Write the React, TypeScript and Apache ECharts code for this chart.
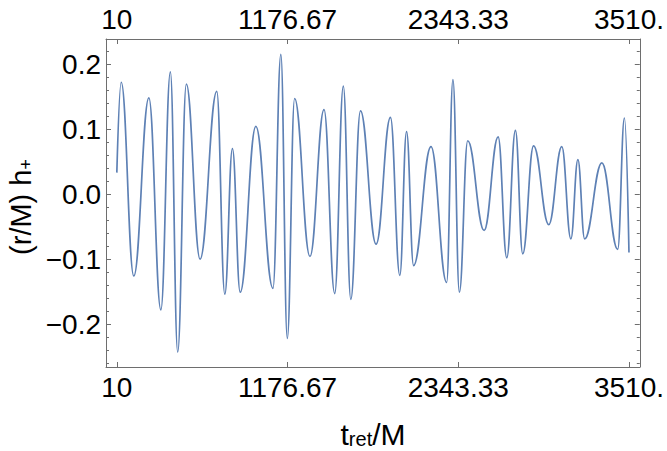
import React, { useEffect, useRef } from "react";
import * as echarts from "echarts";

// Retarded time (t_ret/M) of each turning point
const T = [
  10, 40, 126, 229, 311, 376, 426, 485, 579, 693, 748, 800, 853, 960, 1077,
  1131, 1175, 1225, 1330, 1426, 1499, 1558, 1609, 1675, 1782, 1880, 1944, 1990,
  2038, 2157, 2264, 2307, 2351, 2408, 2520, 2616, 2675, 2734, 2784, 2858, 2962,
  3051, 3113, 3161, 3207, 3325, 3433, 3479, 3510,
];
// (r/M) h+ at those times
const H = [
  0.033, 0.172, -0.126, 0.148, -0.178, 0.188, -0.243, 0.169, -0.1, 0.158,
  -0.154, 0.07, -0.151, 0.104, -0.145, 0.215, -0.222, 0.147, -0.096, 0.13,
  -0.153, 0.166, -0.162, 0.128, -0.077, 0.118, -0.125, 0.096, -0.11, 0.073,
  -0.136, 0.176, -0.151, 0.082, -0.056, 0.088, -0.098, 0.098, -0.092, 0.074,
  -0.047, 0.073, -0.069, 0.053, -0.069, 0.048, -0.085, 0.117, -0.09,
];

const X_TICKS = [10, 1176.6667, 2343.3333, 3510];
const X_TICK_LABELS = ["10", "1176.67", "2343.33", "3510."];
const Y_MAJOR = [-0.2, -0.1, 0, 0.1, 0.2];
const Y_MINOR = [
  -0.26, -0.24, -0.22, -0.18, -0.16, -0.14, -0.12, -0.08, -0.06, -0.04, -0.02,
  0.02, 0.04, 0.06, 0.08, 0.12, 0.14, 0.16, 0.18, 0.22,
];

const X_MIN = -64;
const X_MAX = 3584;
const Y_MIN = -0.266;
const Y_MAX = 0.2385;

const FRAME = "#6e6e6e";
const FONT = "'Liberation Sans', Arial, sans-serif";

function xLabel(v: number): string {
  let best = 0;
  for (let i = 0; i < X_TICKS.length; i++) {
    if (Math.abs(X_TICKS[i] - v) < Math.abs(X_TICKS[best] - v)) best = i;
  }
  return X_TICK_LABELS[best];
}

function yLabel(v: number): string {
  const s = Math.abs(v).toFixed(1);
  return v < -1e-9 ? "\u2212" + s : s;
}

export default function App() {
  const ref = useRef<HTMLDivElement>(null);

  useEffect(() => {
    if (!ref.current) return;
    const chart = echarts.init(ref.current, undefined, { renderer: "svg" });
    const data = T.map((t, i) => [t, H[i]]);

    const xAxisBase = (position: "bottom" | "top") => ({
      type: "value",
      position,
      min: X_MIN,
      max: X_MAX,
      splitLine: { show: false },
      axisLine: { show: true, onZero: false, lineStyle: { color: FRAME, width: 1 } },
      axisTick: {
        show: true,
        inside: true,
        length: 5,
        customValues: X_TICKS,
        lineStyle: { color: FRAME, width: 1 },
      },
      axisLabel: {
        show: true,
        customValues: X_TICKS,
        formatter: xLabel,
        color: "#000",
        fontSize: 28,
        fontFamily: FONT,
        margin: 6,
        hideOverlap: false,
      },
    });

    const yAxisBase = (
      position: "left" | "right",
      ticks: number[],
      len: number,
      labels: boolean,
      line: boolean
    ) => ({
      type: "value",
      position,
      min: Y_MIN,
      max: Y_MAX,
      splitLine: { show: false },
      axisLine: { show: line, onZero: false, lineStyle: { color: FRAME, width: 1 } },
      axisTick: {
        show: true,
        inside: true,
        length: len,
        customValues: ticks,
        lineStyle: { color: FRAME, width: 1 },
      },
      axisLabel: labels
        ? {
            show: true,
            customValues: Y_MAJOR,
            formatter: yLabel,
            color: "#000",
            fontSize: 28,
            fontFamily: FONT,
            margin: 5,
          }
        : { show: false },
    });

    chart.setOption({
      animation: false,
      grid: { left: 106, right: 27, top: 39, bottom: 84, containLabel: false },
      xAxis: [xAxisBase("bottom"), xAxisBase("top")],
      yAxis: [
        yAxisBase("left", Y_MAJOR, 5, true, true),
        yAxisBase("left", Y_MINOR, 3, false, false),
        yAxisBase("right", Y_MAJOR, 5, false, true),
        yAxisBase("right", Y_MINOR, 3, false, false),
      ],
      series: [
        {
          type: "line",
          xAxisIndex: 0,
          yAxisIndex: 0,
          data,
          smooth: 0.42,
          smoothMonotone: "x",
          showSymbol: false,
          symbol: "none",
          lineStyle: { color: "#5e81b5", width: 1.7 },
          clip: true,
        },
      ],
      graphic: [
        {
          type: "text",
          x: 373,
          y: 431,
          style: {
            text: "{a|t}{b|ret}{a|/M}",
            align: "center",
            verticalAlign: "middle",
            fill: "#000",
            rich: {
              a: { fontSize: 30, fontFamily: FONT, lineHeight: 36, verticalAlign: "bottom", fill: "#000" },
              b: { fontSize: 20, fontFamily: FONT, lineHeight: 22, verticalAlign: "bottom", fill: "#000" },
            },
          },
        },
        {
          type: "text",
          x: 18,
          y: 207,
          rotation: Math.PI / 2,
          style: {
            text: "{a|(r/M) h}{b|+}",
            align: "center",
            verticalAlign: "middle",
            fill: "#000",
            rich: {
              a: { fontSize: 29, fontFamily: FONT, lineHeight: 34, verticalAlign: "bottom", fill: "#000" },
              b: { fontSize: 18, fontFamily: FONT, lineHeight: 22, verticalAlign: "bottom", fill: "#000" },
            },
          },
        },
      ],
    });

    return () => chart.dispose();
  }, []);

  return (
    <div
      ref={ref}
      style={{ position: "fixed", left: 0, top: 0, width: 667, height: 451, background: "#fff" }}
    />
  );
}
